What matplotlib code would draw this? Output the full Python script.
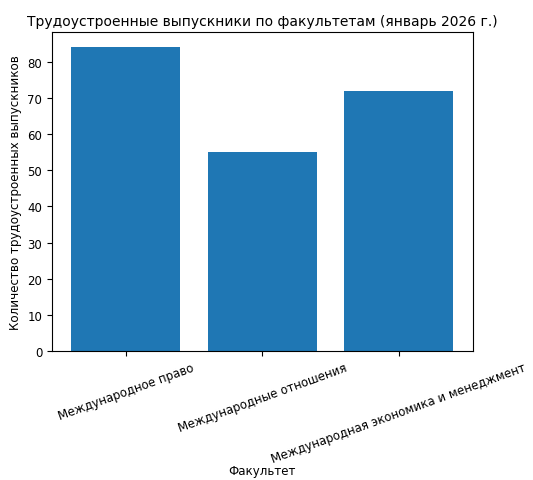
import matplotlib
matplotlib.use("Agg")
import matplotlib.pyplot as plt

faculties = ["Международное право", "Международные отношения", "Международная экономика и менеджмент"]
employed = [84, 55, 72]

fig = plt.figure(figsize=(5.33, 4.81), dpi=100)
ax = fig.add_axes([0.0976, 0.268, 0.789, 0.663])
ax.bar(faculties, employed, color="#1f77b4")
ax.set_title("Трудоустроенные выпускники по факультетам (январь 2026 г.)", fontsize=10, pad=5)
ax.set_xlabel("Факультет", fontsize=8.5, va="center")
ax.xaxis.set_label_coords(0.5, -0.375)
ax.set_ylabel("Количество трудоустроенных выпускников", fontsize=8.6)
ax.tick_params(labelsize=8.5)
plt.setp(ax.get_xticklabels(), rotation=20, ha="center")
fig.savefig("out.png", dpi=100)
